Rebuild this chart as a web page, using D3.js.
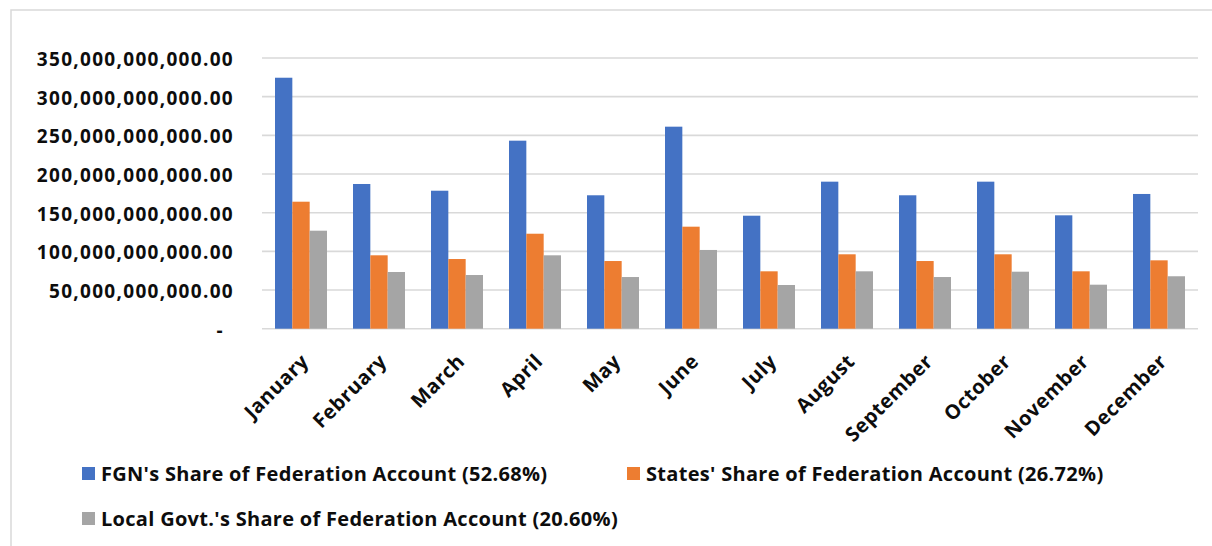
<!DOCTYPE html>
<html>
<head>
<meta charset="utf-8">
<script src="https://cdn.jsdelivr.net/npm/d3@7"></script>
<style>
  html, body { margin: 0; padding: 0; background: #fff; }
  svg { display: block; }
  text { font-family: "Open Sans", "Noto Sans", sans-serif; font-weight: 700; fill: #0d0d0d; }
</style>
</head>
<body>
<svg id="chart" width="1212" height="546"></svg>
<script>
// Monthly distribution from the Federation Account (naira)
const months = ["January", "February", "March", "April", "May", "June",
                "July", "August", "September", "October", "November", "December"];

const fgnShare = [324.5e9, 187.1e9, 178.4e9, 243.1e9, 172.5e9, 261.2e9,
                  146.1e9, 190.1e9, 172.5e9, 190.1e9, 146.6e9, 174.2e9];
const statesShare = [164.2e9, 94.9e9, 90.1e9, 122.8e9, 87.5e9, 131.9e9,
                     74.2e9, 96.2e9, 87.5e9, 96.2e9, 74.2e9, 88.4e9];
const localShare = [126.7e9, 73.3e9, 69.4e9, 94.9e9, 66.8e9, 101.8e9,
                    56.5e9, 74.2e9, 66.8e9, 73.7e9, 56.9e9, 67.8e9];

const seriesNames = [
  "FGN's Share of Federation Account (52.68%)",
  "States' Share of Federation Account (26.72%)",
  "Local Govt.'s Share of Federation Account (20.60%)"
];
const seriesColors = ["#4472C4", "#ED7D31", "#A5A5A5"];

const tickValues = [0, 50e9, 100e9, 150e9, 200e9, 250e9, 300e9, 350e9];
const tickLabels = ["-", "50,000,000,000.00", "100,000,000,000.00", "150,000,000,000.00",
                    "200,000,000,000.00", "250,000,000,000.00", "300,000,000,000.00",
                    "350,000,000,000.00"];

const seriesValues = [fgnShare, statesShare, localShare];

const svg = d3.select("#chart");

// outer frame of the chart area
svg.append("path")
  .attr("d", "M11,546 L11,10 L1212,10")
  .attr("fill", "none")
  .attr("stroke", "#d9d9d9")
  .attr("stroke-width", 1.5);

const plot = { left: 262, right: 1198, top: 58, bottom: 328.7 };

const x0 = d3.scaleBand()
  .domain(months)
  .range([plot.left, plot.right])
  .paddingInner(1 / 3)
  .paddingOuter(1 / 6);

const x1 = d3.scaleBand()
  .domain(d3.range(seriesValues.length))
  .range([0, x0.bandwidth()])
  .padding(0);

const y = d3.scaleLinear()
  .domain([0, 350e9])
  .range([plot.bottom, plot.top]);

// horizontal gridlines
svg.append("g")
  .selectAll("line")
  .data(tickValues)
  .join("line")
  .attr("x1", plot.left)
  .attr("x2", plot.right)
  .attr("y1", d => y(d))
  .attr("y2", d => y(d))
  .attr("stroke", "#d9d9d9")
  .attr("stroke-width", 1.6);

// y axis labels
const yAxis = d3.axisLeft(y)
  .tickValues(tickValues)
  .tickFormat((d, i) => tickLabels[i])
  .tickSize(0)
  .tickPadding(28);

const yg = svg.append("g")
  .attr("transform", `translate(${plot.left},0)`)
  .call(yAxis);
yg.select(".domain").remove();
yg.selectAll("text")
  .style("font-family", "'Open Sans', sans-serif")
  .style("font-weight", 700)
  .style("font-size", "19px")
  .style("letter-spacing", "1.3px")
  .attr("fill", "#0d0d0d")
  .attr("dy", "0.4em")
  .attr("dx", (d, i) => tickLabels[i] === "-" ? -10 : 0);

// grouped bars
const groups = svg.append("g")
  .selectAll("g")
  .data(months)
  .join("g")
  .attr("transform", d => `translate(${x0(d)},0)`);

groups.selectAll("rect")
  .data((m, i) => seriesValues.map((vals, s) => ({ s, v: vals[i] })))
  .join("rect")
  .attr("x", d => x1(d.s))
  .attr("width", x1.bandwidth())
  .attr("y", d => y(d.v))
  .attr("height", d => y(0) - y(d.v))
  .attr("fill", d => seriesColors[d.s]);

// month labels, rotated
const xAxis = d3.axisBottom(x0).tickSize(0).tickPadding(0);
const xg = svg.append("g")
  .attr("transform", `translate(0,${plot.bottom})`)
  .call(xAxis);
xg.select(".domain").remove();
xg.selectAll("text")
  .style("font-family", "'Open Sans', sans-serif")
  .style("font-weight", 700)
  .style("font-size", "20px")
  .style("letter-spacing", "0.5px")
  .attr("fill", "#0d0d0d")
  .attr("text-anchor", "end")
  .attr("y", 0)
  .attr("dy", "0.35em")
  .attr("transform", "translate(4,29) rotate(-45)");

// legend
const legendItems = [
  { name: seriesNames[0], color: seriesColors[0], x: 82, y: 473.5 },
  { name: seriesNames[1], color: seriesColors[1], x: 627, y: 473.5 },
  { name: seriesNames[2], color: seriesColors[2], x: 82, y: 518.5 }
];

const lg = svg.append("g")
  .selectAll("g")
  .data(legendItems)
  .join("g")
  .attr("transform", d => `translate(${d.x},${d.y})`);

lg.append("rect")
  .attr("x", 0)
  .attr("y", -6.5)
  .attr("width", 13)
  .attr("height", 13)
  .attr("fill", d => d.color);

lg.append("text")
  .attr("x", 19)
  .attr("dy", "0.36em")
  .style("font-size", "20px")
  .style("letter-spacing", "0.3px")
  .text(d => d.name);
</script>
</body>
</html>
